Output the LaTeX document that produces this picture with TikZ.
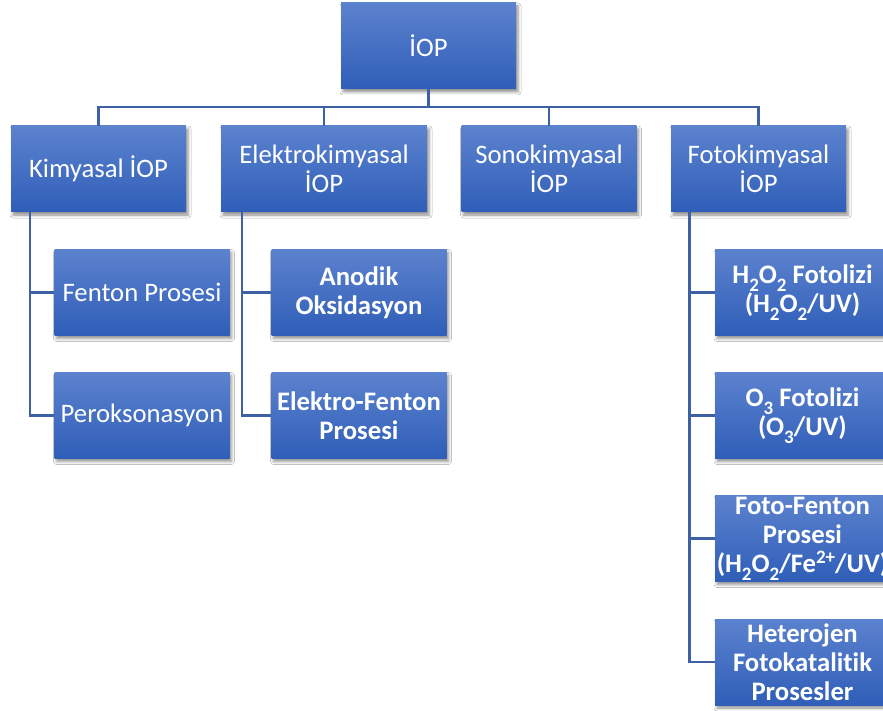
\documentclass[tikz,border=0pt]{standalone}
\usepackage{fontspec}
\setmainfont{Carlito}[Ligatures=CommonOff]
\usetikzlibrary{shadows.blur}
\definecolor{boxtop}{RGB}{92,130,206}
\definecolor{boxbot}{RGB}{47,94,184}
\definecolor{conn}{RGB}{62,96,164}
\newcommand{\sbs}[1]{\raisebox{-0.6ex}{\fontsize{19}{19}\selectfont #1}}
\newcommand{\sps}[1]{\raisebox{0.7ex}{\fontsize{19}{19}\selectfont #1}}
\tikzset{
  box/.style={minimum width=175pt, minimum height=86pt, inner sep=0pt,
    top color=boxtop, bottom color=boxbot, draw=none, text=white, align=center,
    font=\fontsize{26.7}{29}\selectfont,
    blur shadow={shadow xshift=2pt, shadow yshift=-3pt, shadow blur radius=3pt, shadow opacity=45}},
  bbox/.style={box, font=\fontsize{26.7}{29}\selectfont\bfseries},
  link/.style={draw=conn, line width=2.6pt}
}
\begin{document}
\begin{tikzpicture}[x=1pt,y=-1pt]
\clip (0,0) rectangle (883,711);
\useasboundingbox (0,0) rectangle (883,711);
\fill[white] (0,0) rectangle (883,711);
\coordinate (bus) at (428.5,107);
\node[box] (iop) at (428.5,46) {İOP};
\node[box] (kim) at (98.5,169) {Kimyasal İOP};
\node[box, minimum width=206pt] (ele) at (324,169) {Elektrokimyasal\\İOP};
\node[box] (son) at (549,169) {Sonokimyasal\\İOP};
\node[box] (fot) at (758.5,169) {Fotokimyasal\\İOP};
\node[box] (fen) at (142,292.5) {Fenton Prosesi};
\node[box] (per) at (142,415.5) {Peroksonasyon};
\node[bbox] (ano) at (359,292.5) {Anodik\\Oksidasyon};
\node[bbox] (elf) at (359,415.5) {Elektro-Fenton\\Prosesi};
\node[bbox] (hoo) at (802.5,292.5) {H\sbs{2}O\sbs{2} Fotolizi\\(H\sbs{2}O\sbs{2}/UV)};
\node[bbox] (ozo) at (802.5,415.5) {O\sbs{3} Fotolizi\\(O\sbs{3}/UV)};
\node[bbox] (ffe) at (802.5,538.5) {Foto-Fenton\\Prosesi\\(H\sbs{2}O\sbs{2}/Fe\sps{2+}/UV)};
\node[bbox] (het) at (802.5,662) {Heterojen\\Fotokatalitik\\Prosesler};
\draw[link] (iop.south) -- (bus);
\draw[link] (bus) -| (kim.north);
\draw[link] (bus) -| (ele.north);
\draw[link] (bus) -| (son.north);
\draw[link] (bus) -| (fot.north);
\draw[link] ([xshift=19pt]kim.south west) |- (fen.west);
\draw[link] ([xshift=19pt]kim.south west) |- (per.west);
\draw[link] ([xshift=21pt]ele.south west) |- (ano.west);
\draw[link] ([xshift=21pt]ele.south west) |- (elf.west);
\draw[link] ([xshift=18.5pt]fot.south west) |- (hoo.west);
\draw[link] ([xshift=18.5pt]fot.south west) |- (ozo.west);
\draw[link] ([xshift=18.5pt]fot.south west) |- (ffe.west);
\draw[link] ([xshift=18.5pt]fot.south west) |- (het.west);
\end{tikzpicture}
\end{document}
